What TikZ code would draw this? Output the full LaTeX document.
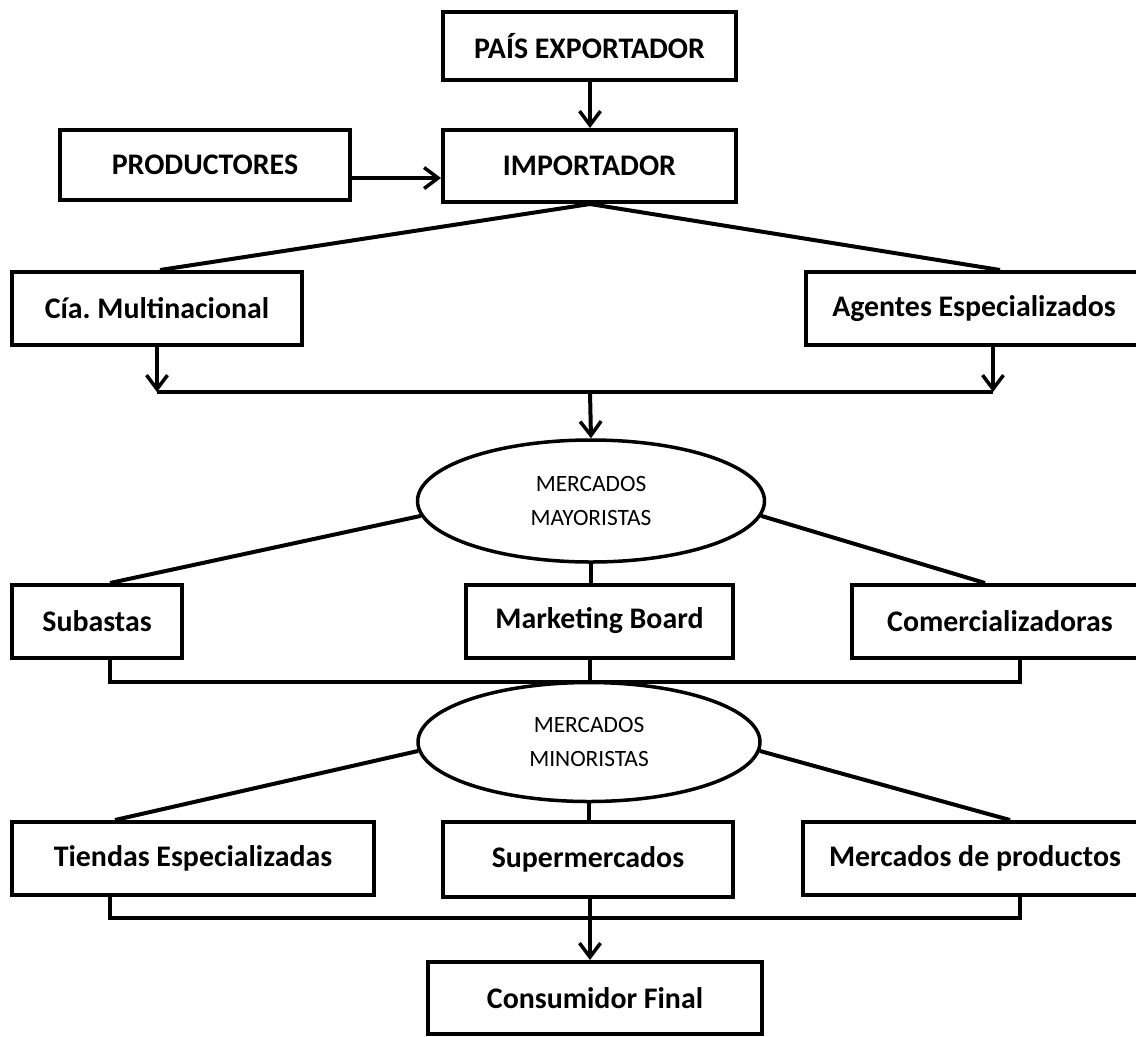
\documentclass[tikz,border=0pt]{standalone}
\usepackage{fontspec}
\setmainfont{Carlito}
\usepackage{tikz}
\usetikzlibrary{arrows.meta, positioning, shapes.geometric, calc}

\begin{document}
\begin{tikzpicture}[
    % Estilo base para las cajas
    caja/.style={
        rectangle,
        draw=black,
        line width=0.08cm,
        inner sep=0pt,
        align=center,
        font=\fontsize{17}{20}\selectfont\bfseries
    },
    % Estilo para los mercados
    elipse/.style={
        ellipse,
        draw=black,
        line width=0.07cm,
        inner sep=0pt,
        align=center,
        font=\fontsize{13.3}{19.5}\selectfont
    },
    linea/.style={line width=0.08cm},
    flecha/.style={line width=0.08cm, -{Straight Barb[length=0.28cm, width=0.42cm, line width=0.07cm]}}
]
    \useasboundingbox (0,0) rectangle (22.72,-20.72);

    % --- NIVEL SUPERIOR ---
    \node[caja, minimum width=5.86cm, minimum height=1.36cm] (pais) at (11.79,-0.92) {PAÍS EXPORTADOR};
    \node[caja, minimum width=5.86cm, minimum height=1.44cm] (importador) at (11.79,-3.32) {IMPORTADOR};
    \node[caja, minimum width=5.8cm, minimum height=1.4cm] (productores) at (4.10,-3.30) {PRODUCTORES};

    % --- INTERMEDIARIOS ---
    \node[caja, minimum width=5.8cm, minimum height=1.46cm] (cia) at (3.14,-6.17) {Cía.\ Multinacional};
    \node[caja, minimum width=6.72cm, minimum height=1.46cm] (agentes) at (19.48,-6.17) {Agentes Especializados};

    % --- MERCADOS MAYORISTAS ---
    \node[elipse, minimum width=6.94cm, minimum height=2.44cm] (mayoristas) at (11.82,-10.02) {MERCADOS\\MAYORISTAS};
    \node[caja, minimum width=3.4cm, minimum height=1.46cm] (subastas) at (1.94,-12.43) {Subastas};
    \node[caja, minimum width=5.34cm, minimum height=1.46cm] (marketing) at (11.99,-12.43) {\raisebox{4pt}{Marketing Board}};
    \node[caja, minimum width=5.92cm, minimum height=1.46cm] (comercial) at (20.0,-12.43) {Comercializadoras};

    % --- MERCADOS MINORISTAS ---
    \node[elipse, minimum width=6.84cm, minimum height=2.38cm] (minoristas) at (11.78,-14.84) {MERCADOS\\MINORISTAS};
    \node[caja, minimum width=7.24cm, minimum height=1.46cm] (tiendas) at (3.86,-17.17) {Tiendas Especializadas};
    \node[caja, minimum width=5.8cm, minimum height=1.5cm] (super) at (11.76,-17.19) {Supermercados};
    \node[caja, minimum width=6.88cm, minimum height=1.46cm] (mercprod) at (19.5,-17.17) {Mercados de productos};

    % --- CONSUMIDOR ---
    \node[caja, minimum width=6.68cm, minimum height=1.44cm] (consumidor) at (11.9,-19.96) {Consumidor Final};

    % --- PUNTOS DE UNION ---
    \coordinate (union1) at (11.8,-7.84);
    \coordinate (union2) at (11.8,-13.64);
    \coordinate (union3) at (11.8,-18.36);

    % --- CONEXIONES ---
    \draw[flecha] (pais.south -| union1) -- (importador.north -| union1);
    \draw[flecha] ([yshift=-0.26cm]productores.east) -- ([yshift=-0.26cm]productores.east -| importador.west);

    \draw[linea] (importador.south -| union1) -- ([xshift=0.06cm]cia.north);
    \draw[linea] (importador.south -| union1) -- ([xshift=0.52cm]agentes.north);
    \draw[flecha] (cia.south) -- (cia.south |- union1);
    \draw[flecha] ([xshift=0.38cm]agentes.south) -- ([xshift=0.38cm]agentes.south |- union1);
    \draw[linea] (cia.south |- union1) -- ([xshift=0.38cm]agentes.south |- union1);
    \draw[flecha] (union1) -- (mayoristas.north);

    \draw[linea] (mayoristas.185) -- ([xshift=0.26cm]subastas.north);
    \draw[linea] (mayoristas.355) -- ([xshift=-0.3cm]comercial.north);
    \draw[linea] (mayoristas.south) -- (mayoristas.south |- marketing.north);

    \draw[linea] ([xshift=0.26cm]subastas.south) -- ([xshift=0.26cm]subastas.south |- union2)
        -- ([xshift=0.4cm]comercial.south |- union2) -- ([xshift=0.4cm]comercial.south);
    \draw[linea] (union2 |- marketing.south) -- (union2);

    \draw[linea] (minoristas.183) -- ([xshift=-1.56cm]tiendas.north);
    \draw[linea] (minoristas.357) -- ([xshift=0.7cm]mercprod.north);
    \draw[linea] (minoristas.south) -- (minoristas.south |- super.north);

    \draw[linea] ([xshift=-1.66cm]tiendas.south) -- ([xshift=-1.66cm]tiendas.south |- union3)
        -- ([xshift=0.9cm]mercprod.south |- union3) -- ([xshift=0.9cm]mercprod.south);
    \draw[flecha] (union3 |- super.south) -- (union3 |- consumidor.north);

\end{tikzpicture}
\end{document}
